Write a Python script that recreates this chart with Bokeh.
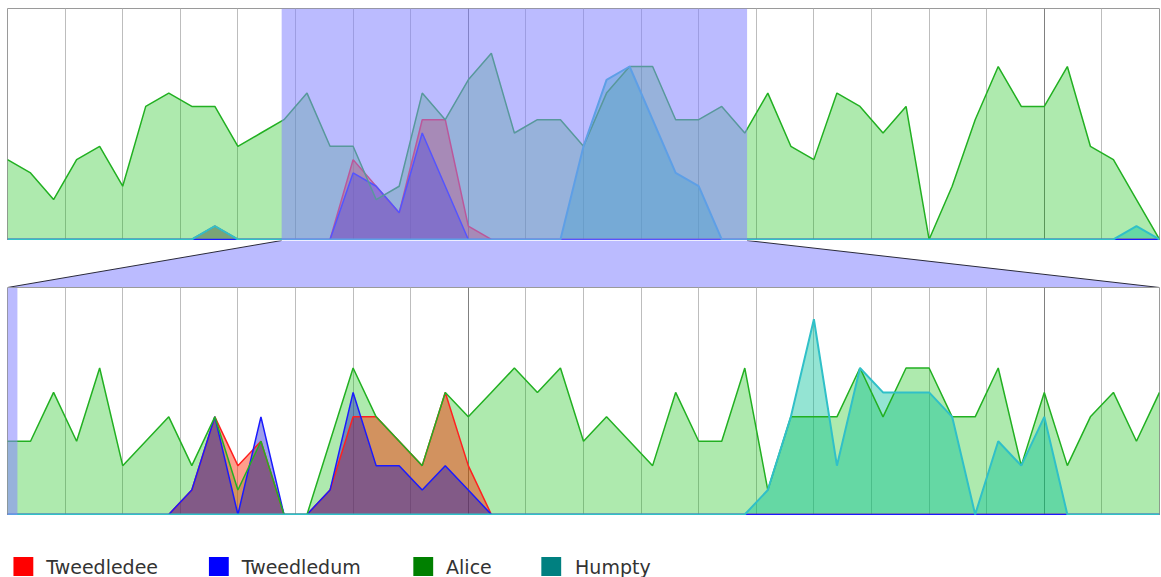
from bokeh.plotting import figure
from bokeh.layouts import column
from bokeh.models import Range1d, Grid, FixedTicker, BoxAnnotation
from bokeh.core.properties import value
from bokeh.embed import file_html
from bokeh.resources import INLINE

# ---- data -------------------------------------------------------------
steps = list(range(51))

# overview (whole period)
overview_tweedledee = [0, 0, 0, 0, 0, 0, 0, 0, 0, 1, 0, 0, 0, 0, 0, 6, 4, 2, 9, 9,
                       1, 0, 0, 0, 0, 0, 0, 0, 0, 0, 0, 0, 0, 0, 0, 0, 0, 0, 0, 0,
                       0, 0, 0, 0, 0, 0, 0, 0, 0, 0, 0]
overview_tweedledum = [0, 0, 0, 0, 0, 0, 0, 0, 0, 0, 0, 0, 0, 0, 0, 5, 4, 2, 8, 4,
                       0, 0, 0, 0, 0, 0, 0, 0, 0, 0, 0, 0, 0, 0, 0, 0, 0, 0, 0, 0,
                       0, 0, 0, 0, 0, 0, 0, 0, 0, 0, 0]
overview_alice = [6, 5, 3, 6, 7, 4, 10, 11, 10, 10, 7, 8, 9, 11, 7, 7, 3, 4, 11, 9,
                  12, 14, 8, 9, 9, 7, 11, 13, 13, 9, 9, 10, 8, 11, 7, 6, 11, 10, 8, 10,
                  0, 4, 9, 13, 10, 10, 13, 7, 6, 3, 0]
overview_humpty = [0, 0, 0, 0, 0, 0, 0, 0, 0, 1, 0, 0, 0, 0, 0, 0, 0, 0, 0, 0,
                   0, 0, 0, 0, 0, 7, 12, 13, 9, 5, 4, 0, 0, 0, 0, 0, 0, 0, 0, 0,
                   0, 0, 0, 0, 0, 0, 0, 0, 0, 1, 0]

# detail (selected period)
detail_tweedledee = [0, 0, 0, 0, 0, 0, 0, 0, 1, 4, 2, 3, 0, 0, 1, 4, 4, 3, 2, 5,
                     2, 0, 0, 0, 0, 0, 0, 0, 0, 0, 0, 0, 0, 0, 0, 0, 0, 0, 0, 0,
                     0, 0, 0, 0, 0, 0, 0, 0, 0, 0, 0]
detail_tweedledum = [0, 0, 0, 0, 0, 0, 0, 0, 1, 4, 0, 4, 0, 0, 1, 5, 2, 2, 1, 2,
                     1, 0, 0, 0, 0, 0, 0, 0, 0, 0, 0, 0, 0, 0, 0, 0, 0, 0, 0, 0,
                     0, 0, 0, 0, 0, 0, 0, 0, 0, 0, 0]
detail_alice = [3, 3, 5, 3, 6, 2, 3, 4, 2, 4, 1, 3, 0, 0, 3, 6, 4, 3, 2, 5,
                4, 5, 6, 5, 6, 3, 4, 3, 2, 5, 3, 3, 6, 1, 4, 4, 4, 6, 4, 6,
                6, 4, 4, 6, 2, 5, 2, 4, 5, 3, 5]
detail_humpty = [0, 0, 0, 0, 0, 0, 0, 0, 0, 0, 0, 0, 0, 0, 0, 0, 0, 0, 0, 0,
                 0, 0, 0, 0, 0, 0, 0, 0, 0, 0, 0, 0, 0, 1, 4, 8, 2, 6, 5, 5,
                 5, 4, 0, 3, 2, 4, 0, 0, 0, 0, 0]

series_names = ["Tweedledee", "Tweedledum", "Alice", "Humpty"]
legend_colors = ["#ff0000", "#0000ff", "#008000", "#008080"]

overview_selection = (11.9, 32.1)
detail_selection = (0.0, 0.43)

light_ticks = [2.5, 5, 7.5, 10, 12.5, 15, 17.5, 22.5, 25, 27.5, 30, 32.5, 35,
               37.5, 40, 42.5, 47.5]
dark_ticks = [20, 45]

# ---- styling ----------------------------------------------------------
FILL = {  # (colour, alpha) of each area
    "Tweedledee": ((255, 40, 0), 0.45),
    "Tweedledum": ((0, 0, 200), 0.38),
    "Alice": ((8, 190, 8), 0.33),
    "Humpty": ((0, 190, 150), 0.42),
}
LINE = {
    "Tweedledee": ("#ff2020", 1.5),
    "Tweedledum": ("#1a1aff", 1.5),
    "Alice": ("#22b022", 1.5),
    "Humpty": ("#30c0c8", 2.0),
}
SEL_COLOR = (132, 132, 255)
SEL_ALPHA = 0.554
W = 1161
LEFT, RIGHT = 7, 2


def panel(height, ymax, top_border, values, selection):
    p = figure(width=W, height=height, output_backend="svg", toolbar_location=None,
               x_range=Range1d(0, 50), y_range=Range1d(-ymax * 0.0046, ymax),
               x_axis_location=None, y_axis_location=None,
               min_border_left=LEFT, min_border_right=RIGHT,
               min_border_top=top_border, min_border_bottom=0)
    p.center = []  # drop the default grids, only vertical rules are drawn
    p.outline_line_color = "#9a9a9a"
    p.outline_line_width = 1
    p.background_fill_color = "white"
    p.border_fill_color = "white"
    p.add_layout(Grid(dimension=0, ticker=FixedTicker(ticks=light_ticks),
                      grid_line_color="#bdbdbd", grid_line_width=1))
    p.add_layout(Grid(dimension=0, ticker=FixedTicker(ticks=dark_ticks),
                      grid_line_color="#808080", grid_line_width=1))

    data = dict(zip(series_names, values))
    for name in ["Alice", "Tweedledee", "Tweedledum", "Humpty"]:
        col, a = FILL[name]
        p.varea(x=steps, y1=0, y2=data[name], fill_color=col, fill_alpha=a)
    for name in series_names:
        c, w = LINE[name]
        p.line(steps, data[name], line_color=c, line_width=w)

    p.add_layout(BoxAnnotation(left=selection[0], right=selection[1],
                               fill_color=SEL_COLOR, fill_alpha=SEL_ALPHA,
                               line_alpha=0))
    return p


top = panel(240, 17.36, 8,
            [overview_tweedledee, overview_tweedledum, overview_alice, overview_humpty],
            overview_selection)

# connector between the overview selection and the detail panel
mid = figure(width=W, height=47, output_backend="svg", toolbar_location=None,
             x_range=Range1d(0, 50), y_range=Range1d(0, 1),
             x_axis_location=None, y_axis_location=None,
             min_border_left=LEFT, min_border_right=RIGHT,
             min_border_top=0, min_border_bottom=0)
mid.center = []
mid.outline_line_color = None
s0, s1 = overview_selection
mid.patch([s0, s1, 50, 0], [1, 1, 0, 0], fill_color="#bbbbff", line_alpha=0)
mid.line([s0, 0], [1, 0], line_color="#2a2a3a", line_width=1)
mid.line([s1, 50], [1, 0], line_color="#2a2a3a", line_width=1)

bottom = panel(228, 9.3, 0,
               [detail_tweedledee, detail_tweedledum, detail_alice, detail_humpty],
               detail_selection)

# legend strip, laid out in pixels (x to the right, y downwards)
LEG_H = 62
leg = figure(width=W, height=LEG_H, output_backend="svg", toolbar_location=None,
             x_range=Range1d(0, W), y_range=Range1d(LEG_H, 0),
             x_axis_location=None, y_axis_location=None,
             min_border_left=0, min_border_right=0, min_border_top=0, min_border_bottom=0)
leg.center = []
leg.outline_line_color = None
swatch_left = [6, 203, 409, 538]
label_left = [39, 236, 442, 572]
row_y = 51
leg.rect(x=[s + 10 for s in swatch_left], y=row_y, width=20, height=19,
         fill_color=legend_colors, line_color=None)
leg.text(x=label_left, y=row_y, text=series_names, text_baseline="middle",
         text_font=value("DejaVu Sans"), text_font_size="19px", text_color="#333333")

layout = column(top, mid, bottom, leg, spacing=0)
open("out.html", "w").write(file_html(layout, INLINE))
